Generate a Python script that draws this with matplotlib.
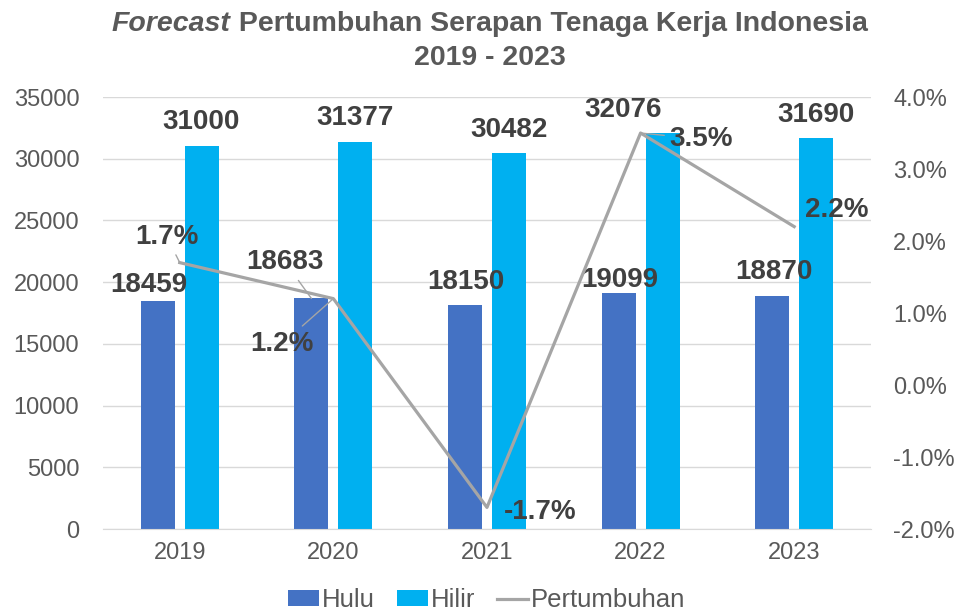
import matplotlib.pyplot as plt
import numpy as np
from matplotlib.offsetbox import TextArea, HPacker, VPacker, AnchoredOffsetbox

years = ["2019", "2020", "2021", "2022", "2023"]
hulu = [18459, 18683, 18150, 19099, 18870]
hilir = [31000, 31377, 30482, 32076, 31690]
growth = [1.7, 1.2, -1.7, 3.5, 2.2]

# label offsets in pixels from the mark (manually placed in the original)
hulu_off = [(-9, 16), (-26, 36), (1, 23), (1, 13), (2, 24)]
hilir_off = [(-1, 24), (0, 24), (0, 23), (-39, 23), (0, 23)]
growth_off = [(-13, 26), (-51, -45), (53, -5), (61, -6), (43, 17)]
hulu_leader = [False, True, False, False, False]
growth_leader = [True, True, False, True, False]

c_hulu = '#4472C4'
c_hilir = '#00B0F0'
c_line = '#A5A5A5'
c_text = '#595959'
c_label = '#404040'

plt.rcParams['font.family'] = ['Liberation Sans', 'DejaVu Sans']

fig = plt.figure(figsize=(9.62, 6.16), dpi=100)
ax = fig.add_axes([0.107, 0.1412, 0.7984, 0.7013])
ax2 = ax.twinx()

x = np.arange(len(years))
w = 0.221
off = 0.143
b1 = ax.bar(x - off, hulu, w, color=c_hulu, label='Hulu', zorder=2)
b2 = ax.bar(x + off, hilir, w, color=c_hilir, label='Hilir', zorder=2)
ln, = ax2.plot(x, growth, color=c_line, lw=2.3, label='Pertumbuhan', zorder=3)

ax.set_xlim(-0.5, 4.5)
ax.set_ylim(0, 35000)
ax.set_yticks(np.arange(0, 35001, 5000))
ax2.set_ylim(-2, 4)
ax2.set_yticks(np.arange(-2, 4.01, 1))
ax2.set_yticklabels([f'{v:.1f}%' for v in np.arange(-2, 4.01, 1)])
ax.set_xticks(x)
ax.set_xticklabels(years)

ax.yaxis.grid(True, color='#D9D9D9', lw=1)
ax.set_axisbelow(True)
for a in (ax, ax2):
    for s in a.spines.values():
        s.set_visible(False)
ax.spines['bottom'].set_visible(True)
ax.spines['bottom'].set_color('#D9D9D9')
ax.tick_params(axis='both', length=0, labelsize=17, labelcolor=c_text)
ax.tick_params(axis='y', pad=17)
ax.tick_params(axis='x', pad=9)
ax2.tick_params(axis='y', length=0, labelsize=17, labelcolor=c_text, pad=16)

lead = dict(arrowstyle='-', color=c_line, lw=1, shrinkA=2, shrinkB=0)

for i in range(len(years)):
    ax.annotate(str(hulu[i]), (x[i] - off, hulu[i]), xytext=hulu_off[i],
                textcoords='offset pixels', ha='center', va='center',
                fontsize=20, fontweight='bold', color=c_label, zorder=5,
                arrowprops=lead if hulu_leader[i] else None)
    ax.annotate(str(hilir[i]), (x[i] + off, hilir[i]), xytext=hilir_off[i],
                textcoords='offset pixels', ha='center', va='center',
                fontsize=20, fontweight='bold', color=c_label, zorder=5)
    ax2.annotate(f'{growth[i]:.1f}%', (x[i], growth[i]), xytext=growth_off[i],
                 textcoords='offset pixels', ha='center', va='center',
                 fontsize=20, fontweight='bold', color=c_label, zorder=5,
                 arrowprops=lead if growth_leader[i] else None)

# title, first word in italics
tprops = dict(fontsize=20.5, fontweight='bold', color=c_text)
line1 = HPacker(children=[TextArea('Forecast', textprops=dict(style='italic', **tprops)),
                          TextArea(' Pertumbuhan Serapan Tenaga Kerja Indonesia', textprops=tprops)],
                align='baseline', pad=0, sep=0)
line2 = TextArea('2019 - 2023', textprops=tprops)
title = VPacker(children=[line1, line2], align='center', pad=0, sep=6)
anch = AnchoredOffsetbox(loc='center', child=title, pad=0, frameon=False,
                         bbox_to_anchor=(0.509, 0.933), bbox_transform=fig.transFigure)
fig.add_artist(anch)

fig.legend(handles=[b1, b2, ln], loc='center', bbox_to_anchor=(0.506, 0.026),
           ncol=3, frameon=False, fontsize=18.5, labelcolor=c_text,
           handlelength=1.2, handleheight=0.55, handletextpad=0.12, columnspacing=0.85)

fig.savefig('out.png', dpi=100)
